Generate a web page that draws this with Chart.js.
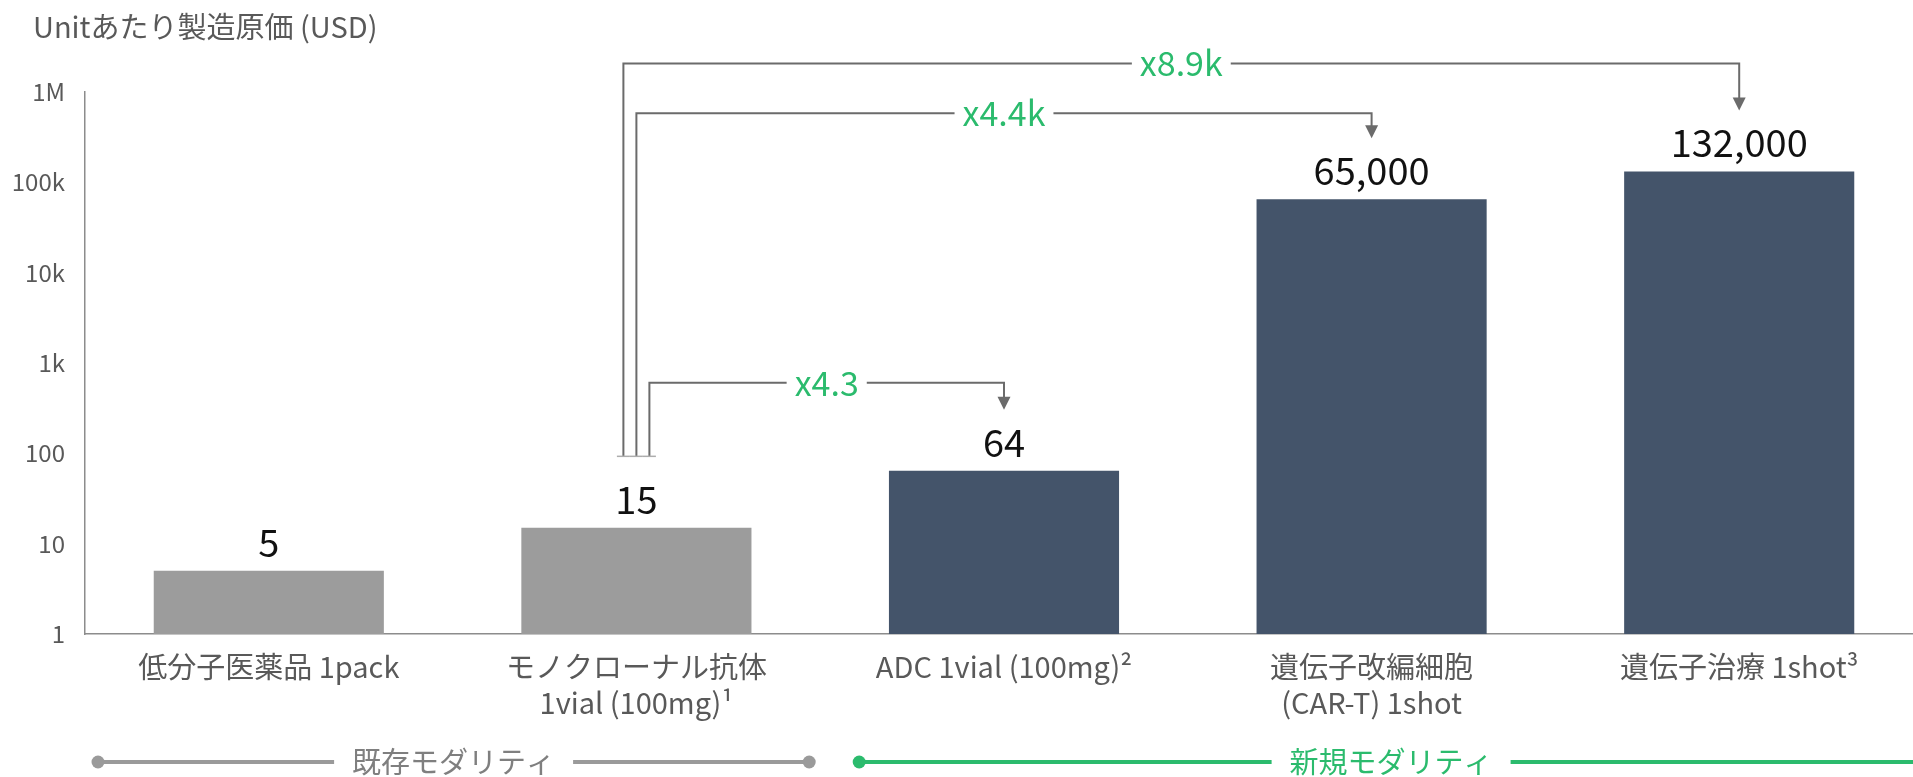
<!DOCTYPE html>
<html>
<head>
<meta charset="utf-8">
<script src="https://cdn.jsdelivr.net/npm/chart.js@4/dist/chart.umd.min.js"></script>
<style>
  html, body { margin: 0; padding: 0; background: #fff; overflow: hidden; }
  canvas { display: block; }
</style>
</head>
<body>
<canvas id="c" width="1923" height="777"></canvas>
<script>
// ---- data ----
const categories = [
  ['低分子医薬品 1pack'],
  ['モノクローナル抗体', '1vial (100mg)¹'],
  ['ADC 1vial (100mg)²'],
  ['遺伝子改編細胞', '(CAR-T) 1shot'],
  ['遺伝子治療 1shot³']
];
const costUSD = [5, 15, 64, 65000, 132000];
const valueLabels = ['5', '15', '64', '65,000', '132,000'];
const barColors = ['#9C9C9C', '#9C9C9C', '#44546A', '#44546A', '#44546A'];
const tickValues = [1, 10, 100, 1000, 10000, 100000, 1000000];
const tickLabels = ['1', '10', '100', '1k', '10k', '100k', '1M'];
const axisTitle = 'Unitあたり製造原価 (USD)';

// ratio brackets: from category -> to category
const ratioFrom = [1, 1, 1];
const ratioTo = [2, 3, 4];
const ratioLabels = ['x4.3', 'x4.4k', 'x8.9k'];

// modality groups (category index ranges)
const groupNames = ['既存モダリティ', '新規モダリティ'];
const groupFirst = [0, 2];
const groupLast = [1, 4];

// ---- styling ----
const FONT = '"Noto Sans CJK JP", "Noto Sans", sans-serif';
const TEXT_GREY = '#595959';
const GREEN = '#2BBB6D';
const BRACKET = '#6B6B6B';
const stemOffsets = [13, 0, -13];   // horizontal offset of each bracket's left stem
const bracketRise = [27, 25, 47];   // height of the bracket bar above its arrow tip
const arrowGap = 61;                // arrow tip distance above the target bar

const overlay = {
  id: 'overlay',
  afterDatasetsDraw(chart) {
    const ctx = chart.ctx;
    const x = chart.scales.x;
    const y = chart.scales.y;
    const catW = (x.right - x.left) / categories.length;

    ctx.save();

    // axis title
    ctx.font = '29px ' + FONT;
    ctx.fillStyle = TEXT_GREY;
    ctx.textAlign = 'left';
    ctx.textBaseline = 'middle';
    ctx.fillText(axisTitle, 33, 27);

    // value labels above bars
    const meta = chart.getDatasetMeta(0);
    ctx.font = '38px ' + FONT;
    ctx.fillStyle = '#111';
    ctx.textAlign = 'center';
    ctx.textBaseline = 'alphabetic';
    meta.data.forEach((bar, i) => {
      ctx.fillText(valueLabels[i], bar.x, bar.y - 14);
    });

    // ratio brackets
    const stemBottom = y.getPixelForValue(100) + 3;
    ctx.font = '34px ' + FONT;
    ratioLabels.forEach((label, i) => {
      const xl = x.getPixelForValue(ratioFrom[i]) + stemOffsets[i];
      const xr = x.getPixelForValue(ratioTo[i]);
      const tip = y.getPixelForValue(costUSD[ratioTo[i]]) - arrowGap;
      const hy = tip - bracketRise[i];
      const tw = ctx.measureText(label).width;
      const cx = (xl + xr) / 2;

      ctx.strokeStyle = BRACKET;
      ctx.lineWidth = 2;
      ctx.beginPath();
      ctx.moveTo(xl, stemBottom);
      ctx.lineTo(xl, hy);
      ctx.lineTo(cx - tw / 2 - 8, hy);
      ctx.moveTo(cx + tw / 2 + 8, hy);
      ctx.lineTo(xr, hy);
      ctx.lineTo(xr, tip - 12);
      ctx.stroke();

      ctx.fillStyle = BRACKET;
      ctx.beginPath();
      ctx.moveTo(xr - 6.5, tip - 13);
      ctx.lineTo(xr + 6.5, tip - 13);
      ctx.lineTo(xr, tip);
      ctx.closePath();
      ctx.fill();

      ctx.strokeStyle = '#ADADAD';
      ctx.lineWidth = 1.5;
      ctx.beginPath();
      ctx.moveTo(xl - 6.5, stemBottom);
      ctx.lineTo(xl + 6.5, stemBottom);
      ctx.stroke();

      ctx.fillStyle = GREEN;
      ctx.textAlign = 'center';
      ctx.textBaseline = 'middle';
      ctx.fillText(label, cx, hy);
    });

    // modality group rules
    const gy = 762;
    ctx.font = '29px ' + FONT;
    const groupColors = ['#9A9A9A', GREEN];
    const textColors = ['#7F7F7F', GREEN];
    groupNames.forEach((name, g) => {
      const x0 = x.getPixelForValue(groupFirst[g]) - catW / 2 + (g === 0 ? 13 : 39);
      const isLast = groupLast[g] === categories.length - 1;
      const x1 = isLast ? chart.width : x.getPixelForValue(groupLast[g]) + catW / 2 - 11;
      const cx = (x0 + x1) / 2;
      const tw = ctx.measureText(name).width;
      ctx.strokeStyle = groupColors[g];
      ctx.lineWidth = 4;
      ctx.beginPath();
      ctx.moveTo(x0, gy);
      ctx.lineTo(cx - tw / 2 - 18, gy);
      ctx.moveTo(cx + tw / 2 + 18, gy);
      ctx.lineTo(x1, gy);
      ctx.stroke();
      ctx.fillStyle = groupColors[g];
      ctx.beginPath();
      ctx.arc(x0, gy, 6.5, 0, Math.PI * 2);
      ctx.fill();
      if (!isLast) {
        ctx.beginPath();
        ctx.arc(x1, gy, 6.5, 0, Math.PI * 2);
        ctx.fill();
      }
      ctx.fillStyle = textColors[g];
      ctx.textAlign = 'center';
      ctx.textBaseline = 'middle';
      ctx.fillText(name, cx, gy);
    });

    ctx.restore();
  }
};

new Chart(document.getElementById('c'), {
  type: 'bar',
  data: {
    labels: categories,
    datasets: [{
      data: costUSD,
      backgroundColor: barColors,
      borderWidth: 0,
      categoryPercentage: 1,
      barPercentage: 0.626
    }]
  },
  options: {
    responsive: false,
    animation: false,
    devicePixelRatio: 1,
    layout: { padding: { top: 92, left: 0, right: 0, bottom: 0 } },
    plugins: {
      legend: { display: false },
      tooltip: { enabled: false },
      title: { display: false }
    },
    scales: {
      x: {
        offset: true,
        grid: { display: false, drawTicks: false },
        border: { display: true, color: '#8C8C8C', width: 1.5 },
        ticks: {
          color: TEXT_GREY,
          padding: 15,
          autoSkip: false,
          maxRotation: 0,
          font: { family: FONT, size: 29, lineHeight: 36 / 29 }
        },
        afterFit(scale) { scale.height = 143; }
      },
      y: {
        type: 'logarithmic',
        min: 1,
        max: 1000000,
        grid: { display: false, drawTicks: false },
        border: { display: true, color: '#8C8C8C', width: 1.5 },
        afterBuildTicks(scale) {
          scale.ticks = tickValues.map(v => ({ value: v }));
        },
        ticks: {
          color: TEXT_GREY,
          padding: 20,
          autoSkip: false,
          font: { family: FONT, size: 24 },
          callback(value) {
            const i = tickValues.indexOf(value);
            return i >= 0 ? tickLabels[i] : '';
          }
        },
        afterFit(scale) { scale.width = 85; }
      }
    }
  },
  plugins: [overlay]
});
</script>
</body>
</html>
